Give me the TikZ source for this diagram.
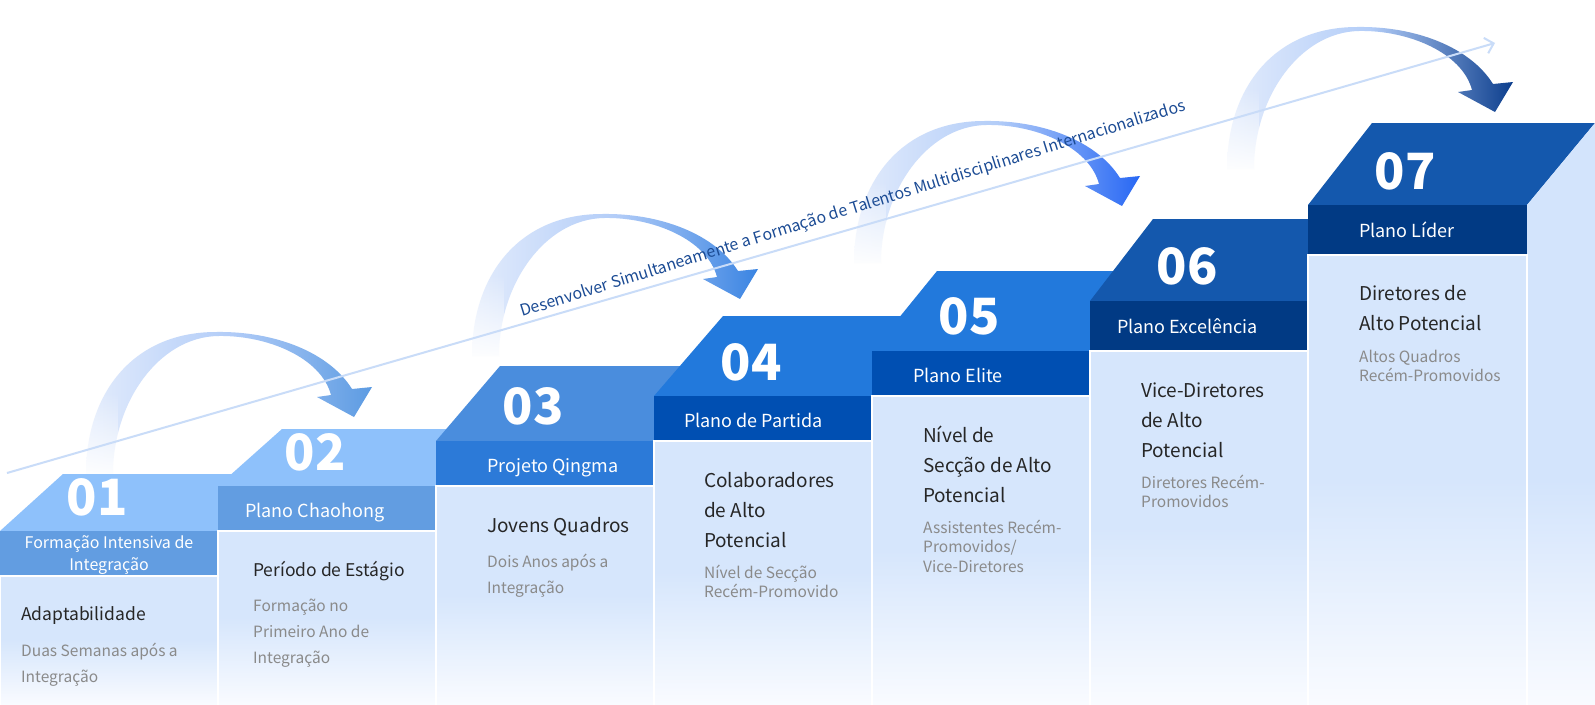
\documentclass[tikz,border=0pt]{standalone}
\usepackage{fontspec}
\setmainfont{Noto Sans CJK SC}
\usetikzlibrary{fadings,arrows.meta}

\definecolor{lighttop}{HTML}{8EC1FB}
\definecolor{lightband}{HTML}{629DE1}
\definecolor{midtop}{HTML}{4A8DDD}
\definecolor{midband}{HTML}{2C7AD8}
\definecolor{bluetop}{HTML}{2279DC}
\definecolor{blueband}{HTML}{004FB2}
\definecolor{navytop}{HTML}{1458AD}
\definecolor{navyband}{HTML}{013A84}
\definecolor{bodyblue}{HTML}{D6E6FC}
\definecolor{sideblue}{HTML}{D3E4FC}
\definecolor{fadewhite}{HTML}{F9FBFF}
\definecolor{maintext}{HTML}{262626}
\definecolor{subtext}{HTML}{8A8A8A}
\definecolor{guidecol}{HTML}{C9DCF8}
\definecolor{guidetext}{HTML}{1B4B94}
\definecolor{arcpale}{HTML}{E3ECFC}
\definecolor{arcmid}{HTML}{B3CDF8}
\definecolor{arcA}{HTML}{5C9BE2}
\definecolor{arcB}{HTML}{3A84E2}
\definecolor{arcC}{HTML}{2767F4}
\definecolor{arcD}{HTML}{0C3E8D}

\tikzfading[name=legfade, top color=transparent!100, bottom color=transparent!5]

\newcommand{\ribbonarrow}[3]{%
\begin{scope}[shift={(#1,#2)}]
\shade[left color=arcpale, right color=#3, middle color=arcmid]
 (-268,57) .. controls (-268,-25) and (-220,-85) .. (-138,-85)
 .. controls (-80,-86) and (-25,-65) .. (-2,-28)
 -- (18,-30) -- (0,0) -- (-37,-20) -- (-23,-22)
 .. controls (-33,-60) and (-88,-82) .. (-136,-81)
 .. controls (-195,-80) and (-241,-15) .. (-241,57) -- cycle;
\fill[white, path fading=legfade] (-272,-25) rectangle (-236,58);
\end{scope}}

\newcommand{\stepshape}[8]{% L, bandtop, bandbottom, topy, dx, topcolor, bandcolor, fade start
\fill[#6] (#1,#2) -- ({#1+#5},#4) -- ({#1+330},#4) -- ({#1+330},#2) -- cycle;
\fill[#7] (#1,#2) rectangle ({#1+218},#3);
\fill[bodyblue] (#1,#3) rectangle ({#1+218},704);
\shade[top color=bodyblue, bottom color=fadewhite] (#1,#8) rectangle ({#1+218},704);
\draw[white, line width=1.2pt] (#1,706) -- (#1,#3) -- ({#1+218},#3) -- ({#1+218},706);
}

\newcommand{\lns}[1]{\begin{tabular}[t]{@{}l@{}}#1\end{tabular}}

\tikzset{
 num/.style={anchor=base, text=white, inner sep=0pt, font=\fontsize{50}{50}\selectfont\bfseries},
 bandlabel/.style={anchor=base west, text=white, inner sep=0pt, font=\fontsize{18}{22}\selectfont},
 bandsmall/.style={anchor=base, text=white, inner sep=0pt, font=\fontsize{16}{22}\selectfont},
 maintxt/.style={anchor=base west, text=maintext, inner sep=0pt, font=\fontsize{19}{30}\selectfont},
 mainsmall/.style={anchor=base west, text=maintext, inner sep=0pt, font=\fontsize{17.5}{30}\selectfont},
 subtxt/.style={anchor=base west, text=subtext, inner sep=0pt, font=\fontsize{15.5}{19.5}\selectfont},
 subwide/.style={anchor=base west, text=subtext, inner sep=0pt, font=\fontsize{15.5}{26}\selectfont},
 guide/.style={guidecol, line width=2pt},
 guidetxt/.style={anchor=base west, text=guidetext, inner sep=0pt, rotate=17.3, font=\fontsize{16}{18}\selectfont},
}

\begin{document}
\begin{tikzpicture}[x=1pt, y=-1pt]
\useasboundingbox (0,0) rectangle (1595,704);
\fill[white] (0,0) rectangle (1595,704);

% curved arrows
\ribbonarrow{354}{417}{arcA}
\ribbonarrow{740}{299}{arcB}
\ribbonarrow{1122}{206}{arcC}
\ribbonarrow{1495}{112}{arcD}

% guide line
\coordinate (gs) at (7,473);
\coordinate (ge) at (1495,43);
\draw[guide, -{Straight Barb[length=8pt, width=16pt, line width=2pt]}] (gs) -- (ge);
\node[guidetxt] (gt) at (522,317) {Desenvolver Simultaneamente a Formação de Talentos Multidisciplinares Internacionalizados};

% steps
\stepshape{0}{531}{576}{474}{63}{lighttop}{lightband}{640}
\stepshape{218}{486}{531}{429}{64}{lighttop}{lightband}{617}
\stepshape{436}{441}{486}{366}{64}{midtop}{midband}{595}
\stepshape{654}{396}{441}{316}{69}{bluetop}{blueband}{572}
\stepshape{872}{351}{396}{271}{65}{bluetop}{blueband}{550}
\stepshape{1090}{301}{351}{219}{63}{navytop}{navyband}{527}
% step 7 with side face
\fill[navytop] (1308,205) -- (1372,123) -- (1595,123) -- (1527,205) -- cycle;
\fill[sideblue] (1527,205) -- (1595,123) -- (1595,704) -- (1527,704) -- cycle;
\shade[top color=sideblue, bottom color=fadewhite] (1527,480) rectangle (1595,704);
\fill[navyband] (1308,205) rectangle (1527,255);
\fill[bodyblue] (1308,255) rectangle (1527,704);
\shade[top color=bodyblue, bottom color=fadewhite] (1308,480) rectangle (1527,704);
\draw[white, line width=1.2pt] (1308,706) -- (1308,255) -- (1527,255) -- (1527,706);

% numbers
\node[num] (n1) at (97,515) {01};
\node[num] (n2) at (315,470) {02};
\node[num] (n3) at (533,424) {03};
\node[num] (n4) at (751,380) {04};
\node[num] (n5) at (969,334) {05};
\node[num] (n6) at (1187,284) {06};
\node[num] (n7) at (1405,189) {07};

% band labels
\node[bandsmall] (b1) at (109,548) {\begin{tabular}[t]{@{}c@{}}Formação Intensiva de\\Integração\end{tabular}};
\node[bandlabel] (b2) at (245,517) {Plano Chaohong};
\node[bandlabel] (b3) at (487,472) {Projeto Qingma};
\node[bandlabel] (b4) at (684,427) {Plano de Partida};
\node[bandlabel] (b5) at (913,382) {Plano Elite};
\node[bandlabel] (b6) at (1117,333) {Plano Excelência};
\node[bandlabel] (b7) at (1359,237) {Plano Líder};

% main texts
\node[mainsmall] (m1) at (21,620) {\lns{Adaptabilidade}};
\node[mainsmall] (m2) at (253,576) {\lns{Período de Estágio}};
\node[maintxt] (m3) at (487,532) {\lns{Jovens Quadros}};
\node[maintxt] (m4) at (704,487) {\lns{Colaboradores\\de Alto\\Potencial}};
\node[maintxt] (m5) at (923,442) {\lns{Nível de\\Secção de Alto\\Potencial}};
\node[maintxt] (m6) at (1141,397) {\lns{Vice-Diretores\\de Alto\\Potencial}};
\node[maintxt] (m7) at (1359,300) {\lns{Diretores de\\Alto Potencial}};

% sub texts
\node[subwide] (s1) at (21,656) {\lns{Duas Semanas após a\\Integração}};
\node[subwide] (s2) at (253,611) {\lns{Formação no\\Primeiro Ano de\\Integração}};
\node[subwide] (s3) at (487,567) {\lns{Dois Anos após a\\Integração}};
\node[subtxt] (s4) at (704,578) {\lns{Nível de Secção\\Recém-Promovido}};
\node[subtxt] (s5) at (923,533) {\lns{Assistentes Recém-\\Promovidos/\\Vice-Diretores}};
\node[subtxt] (s6) at (1141,488) {\lns{Diretores Recém-\\Promovidos}};
\node[subtxt] (s7) at (1359,362) {\lns{Altos Quadros\\Recém-Promovidos}};
\end{tikzpicture}
\end{document}
